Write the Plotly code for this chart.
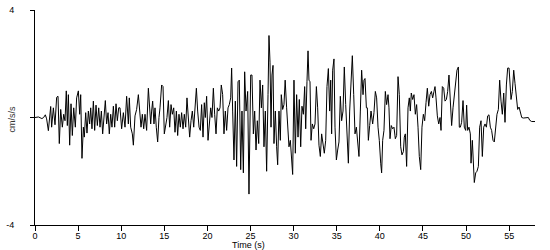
import plotly.graph_objects as go

# Acceleration record (time in s, acceleration in cm/s/s)
t_seg1 = [0.0, 0.4, 0.8, 1.0, 1.2, 1.35, 1.55, 1.66, 1.82, 1.93, 2.13, 2.32, 2.51, 2.67, 2.82,
          2.98, 3.17, 3.33, 3.48, 3.63, 3.75, 3.87, 4.02, 4.18, 4.33, 4.49, 4.68, 4.83, 5.03,
          5.18, 5.30, 5.45, 5.61, 5.72, 5.88, 6.03, 6.19, 6.34, 6.46, 6.61, 6.77, 6.92, 7.08,
          7.23, 7.39, 7.54, 7.70, 7.85, 8.01, 8.16, 8.31, 8.47, 8.62, 8.78, 8.93, 9.09, 9.24,
          9.40, 9.55, 9.71]
a_seg1 = [0.0, 0.02, -0.04, 0.0, 0.10, -0.05, -0.49, -0.1, 0.41, -0.36, 0.36, -0.27, 0.75, 0.79, -0.97,
          0.30, -0.36, 0.12, -0.12, 0.99, -0.30, 0.85, -1.03, 0.51, -0.67, 0.36, -0.36, 0.73, 0.99,
          0.12, 0.85, -1.52, -0.36, -0.73, 0.18, -0.58, 0.24, -0.24, 0.36, -0.42, 0.61, -0.48, 0.46,
          -0.30, 0.36, -0.36, 0.24, -0.61, 0.0, 0.63, -0.24, 0.18, -0.61, 0.12, -0.36, 0.42, -0.36,
          0.51, -0.12, 0.36]

t_seg2 = [9.86, 10.05, 10.25, 10.44, 10.63, 10.83, 10.94, 11.10, 11.29, 11.41, 11.60, 11.79, 11.99,
          12.14, 12.30, 12.45, 12.61, 12.76, 12.95, 13.15, 13.30, 13.42, 13.53, 13.65, 13.80, 13.92,
          14.07, 14.23, 14.38, 14.50, 14.69, 14.85, 15.00, 15.16, 15.31, 15.47, 15.62, 15.78, 15.93,
          16.09, 16.24, 16.40, 16.55, 16.70, 16.86, 17.01, 17.17, 17.32, 17.48, 17.63, 17.79, 17.94,
          18.10, 18.25, 18.41, 18.56, 18.72, 18.87, 19.03, 19.18, 19.33, 19.49, 19.64]
a_seg2 = [0.36, -0.42, 0.18, -0.36, 0.79, -0.24, 0.73, -0.36, -0.61, -1.03, 0.06, 0.30, 0.85,
          0.36, -0.36, 0.12, -0.42, 0.12, -0.48, 1.09, 0.36, -0.24, 0.24, 0.61, -0.24, 0.36,
          -0.36, -0.91, 0.0, 0.36, 1.21, 1.15, -0.61, -0.24, 0.0, 0.63, -0.36, 0.48, 0.12,
          0.36, -0.55, 0.24, -0.67, 0.12, -0.36, 0.18, -0.42, 0.12, -0.36, 0.73, -0.12, -0.73,
          -0.12, 0.24, -0.36, 0.48, 1.09, 0.24, -0.36, -0.48, 0.48, -0.73, 0.55]

t_seg3 = [19.76, 19.91, 20.07, 20.22, 20.38, 20.53, 20.69, 20.84, 21.00, 21.15, 21.31, 21.46, 21.61,
          21.77, 21.92, 22.08, 22.23, 22.39, 22.54, 22.70, 22.81, 22.93, 23.08, 23.24, 23.39, 23.55,
          23.70, 23.86, 24.01, 24.17, 24.32, 24.48, 24.67, 24.82, 25.02, 25.17, 25.33, 25.48, 25.64,
          25.79, 25.95, 26.10, 26.26, 26.41, 26.56, 26.72, 26.87, 27.03, 27.14, 27.26, 27.38, 27.49,
          27.61, 27.72, 27.88, 28.03, 28.15, 28.30, 28.46, 28.57, 28.73, 28.88]
a_seg3 = [0.0, 0.79, -0.85, -0.12, 0.36, 0.0, 1.09, 0.12, -0.61, 0.36, 0.24, 0.36, 1.21,
          0.85, -0.61, 0.24, -0.48, 0.36, 0.48, 0.73, 1.84, 0.24, -1.58, 0.61, -1.82, 1.33,
          1.39, -1.94, 0.24, -2.06, 1.70, 0.24, 0.97, -2.85, 1.58, 1.58, -0.61, 0.24, -1.21,
          -0.12, -0.97, 1.39, 0.36, 1.21, -1.09, 0.24, -2.00, 0.85, 3.05, 2.06, -0.36, 1.58,
          1.94, -0.97, 0.24, -1.09, -1.76, 0.24, -0.85, 0.85, 0.30, 0.48]

t_seg4 = [29.02, 29.19, 29.31, 29.46, 29.62, 29.77, 29.89, 30.04, 30.20, 30.35, 30.51, 30.66, 30.82,
          30.97, 31.13, 31.28, 31.40, 31.55, 31.67, 31.78, 31.90, 32.02, 32.17, 32.33, 32.48, 32.64,
          32.79, 32.94, 33.10, 33.25, 33.41, 33.56, 33.72, 33.87, 34.03, 34.18, 34.30, 34.41, 34.53,
          34.68, 34.80, 34.96, 35.11, 35.26, 35.42, 35.57, 35.73, 35.88, 36.04, 36.19, 36.35, 36.50,
          36.66, 36.81, 36.97, 37.12, 37.28, 37.43, 37.58, 37.74, 37.89, 38.05, 38.16, 38.28, 38.44,
          38.55, 38.67, 38.82]
a_seg4 = [1.39, 0.36, -0.36, -1.09, -0.85, -1.70, -2.12, 1.39, -1.33, 0.85, -0.73, 0.67, -1.09,
          0.42, 0.12, 1.15, -0.42, 1.33, 2.48, 1.39, 1.33, -0.85, -0.24, -0.42, -0.24, 1.15,
          0.36, -1.03, -1.45, -0.61, -0.97, -1.33, -0.85, 1.15, 1.82, 0.24, 1.39, -0.61, 1.76,
          2.18, -0.36, -1.58, -1.21, -0.91, 0.79, -0.12, 0.24, 1.88, 0.48, -0.73, -1.70, 0.24,
          1.09, 2.30, 0.85, -0.61, -0.36, -0.91, -1.45, 0.24, 1.76, 0.85, 1.39, 1.45, 0.36,
          0.36, -0.85, -0.30]

t_seg5 = [38.98, 39.17, 39.32, 39.48, 39.63, 39.79, 39.94, 40.10, 40.21, 40.33, 40.48, 40.64, 40.79,
          40.95, 41.06, 41.18, 41.33, 41.49, 41.64, 41.80, 41.95, 42.11, 42.26, 42.42, 42.57, 42.73,
          42.84, 42.96, 43.11, 43.27, 43.42, 43.54, 43.65, 43.81, 43.96, 44.12, 44.27, 44.43, 44.58,
          44.74, 44.89, 45.05, 45.20, 45.36, 45.51, 45.67, 45.82, 45.98, 46.13, 46.28, 46.40, 46.52,
          46.67, 46.83, 46.98, 47.10, 47.25, 47.41, 47.56, 47.72, 47.87, 48.02, 48.18, 48.33, 48.49,
          48.64, 48.80, 48.95, 49.11, 49.22]
a_seg5 = [0.24, -0.24, 0.18, 0.97, 0.73, -0.36, -0.85, -1.70, -2.06, -0.85, -0.48, 0.97, 0.48,
          0.85, 0.36, -0.79, -0.30, -0.42, -0.36, -0.79, -0.67, 1.52, 0.85, -1.09, -1.39, -1.27,
          -0.73, -0.61, -1.82, 0.36, 0.73, 0.24, 0.91, 0.67, 0.85, 0.12, 0.48, -0.36, -1.45,
          -1.94, -0.36, 0.12, -0.12, 0.55, 1.09, 0.42, 0.85, 0.97, 0.73, 0.97, 1.15, 0.73,
          0.06, -0.24, 0.0, -0.48, 1.15, 1.09, 0.61, 0.67, 0.97, 1.58, 0.61, -0.30, 0.36,
          0.85, 1.15, 1.76, 1.88, -0.36]

t_seg6 = [49.34, 49.49, 49.65, 49.80, 49.96, 50.07, 50.19, 50.34, 50.50, 50.58, 50.73, 50.89, 50.96,
          51.12, 51.27, 51.43, 51.58, 51.74, 51.89, 52.05, 52.20, 52.36, 52.51, 52.66, 52.82, 52.97,
          53.13, 53.28, 53.44, 53.59, 53.75, 53.90, 54.06, 54.21, 54.37, 54.52, 54.68, 54.83, 54.99,
          55.10, 55.22, 55.37, 55.53, 55.68, 55.84, 55.99, 56.15, 56.30, 56.46, 56.65, 56.84, 57.04,
          57.23, 57.38, 57.61, 58.0]
a_seg6 = [-0.36, -0.18, 0.63, -0.36, -0.48, 0.46, -0.48, -0.36, -0.61, -1.70, -0.85, -1.82, -2.42,
          -2.06, -2.00, -1.82, -0.36, -0.12, -1.45, -0.36, -0.24, -0.36, 0.06, 0.10, -0.36, -0.48,
          -0.85, -0.91, -0.24, 0.12, 0.30, 1.39, 0.61, 0.12, 0.91, -0.18, 1.21, 1.84, 1.84,
          1.27, 0.67, 0.97, 1.76, 1.27, 0.61, 0.30, 0.39, 0.15, 0.0, -0.02, -0.02, -0.02,
          0.0, -0.10, -0.15, -0.15]

time_s = t_seg1 + t_seg2 + t_seg3 + t_seg4 + t_seg5 + t_seg6
accel = a_seg1 + a_seg2 + a_seg3 + a_seg4 + a_seg5 + a_seg6

x_ticks = [0, 5, 10, 15, 20, 25, 30, 35, 40, 45, 50, 55]
y_ticks = [-4, 0, 4]
y_tick_text = ["-4", "", "4"]

FONT = "Liberation Sans, Arial, sans-serif"

fig = go.Figure()
fig.add_trace(go.Scatter(x=time_s, y=accel, mode="lines",
                         line=dict(color="black", width=1), hoverinfo="skip"))

fig.update_layout(
    width=550, height=250,
    margin=dict(l=35, r=15, t=5, b=25),
    paper_bgcolor="white", plot_bgcolor="white",
    showlegend=False,
    font=dict(family=FONT, size=9, color="black"),
    xaxis=dict(range=[0, 58], tickvals=x_ticks, ticks="outside", ticklen=5,
               tickcolor="black", tickwidth=1, showline=True, linecolor="black",
               linewidth=1, showgrid=False, zeroline=False,
               ticklabelstandoff=-3,
               tickfont=dict(family=FONT, size=9, color="black")),
    yaxis=dict(range=[-4, 4], tickvals=y_ticks, ticktext=y_tick_text, ticks="outside",
               ticklen=4, tickcolor="black", tickwidth=1, showline=True,
               linecolor="black", linewidth=1, showgrid=False, zeroline=False,
               ticklabelstandoff=14,
               tickfont=dict(family=FONT, size=9, color="black")),
    annotations=[
        dict(text="Time (s)", x=248, y=245.5, xref="paper", yref="paper",
             xanchor="center", yanchor="middle",
             showarrow=False, font=dict(family=FONT, size=9, color="black")),
        dict(text="cm/s/s", x=12, y=117, xref="paper", yref="paper", textangle=-90,
             xanchor="center", yanchor="middle",
             showarrow=False, font=dict(family=FONT, size=9, color="#333333")),
    ],
)

# convert pixel-based annotation positions to paper coordinates
pw, ph = 550 - 35 - 15, 250 - 5 - 25
for ann in fig.layout.annotations:
    ann.x = (ann.x - 35) / pw
    ann.y = (250 - 25 - ann.y) / ph

fig.write_html("out.html")
